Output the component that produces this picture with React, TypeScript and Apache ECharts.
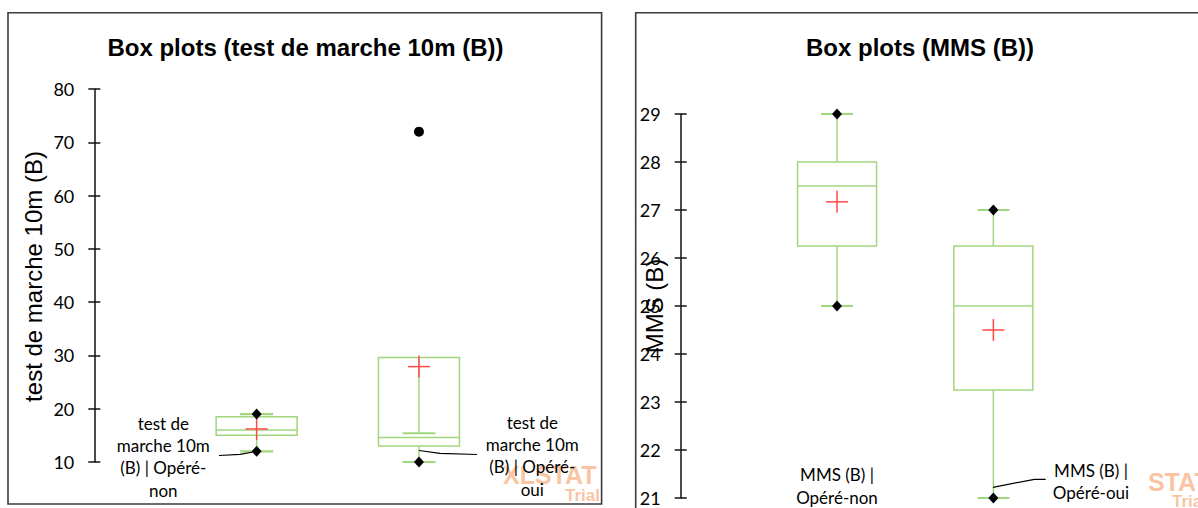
import React, { useEffect, useRef } from "react";
import * as echarts from "echarts";

// ---------- Data: test de marche 10m (B) ----------
const walkCategories = ["test de marche 10m (B) | Opéré-non", "test de marche 10m (B) | Opéré-oui"];
const walkLabelLines = [
  ["test de", "marche 10m", "(B) | Opéré-", "non"],
  ["test de", "marche 10m", "(B) | Opéré-", "oui"],
];
const walkTicks = [10, 20, 30, 40, 50, 60, 70, 80];
const walkMin = [12, 10];
const walkMax = [19, 72];
const walkQ1 = [15, 13];
const walkMedian = [16, 14.6];
const walkQ3 = [18.5, 29.6];
const walkWhiskerLow = [12, 10];
const walkWhiskerHigh = [19, 15.4];
const walkMean = [16.2, 27.9];
const walkIsMaxOutlier = [false, true];

// ---------- Data: MMS (B) ----------
const mmsCategories = ["MMS (B) | Opéré-non", "MMS (B) | Opéré-oui"];
const mmsLabelLines = [
  ["MMS (B) |", "Opéré-non"],
  ["MMS (B) |", "Opéré-oui"],
];
const mmsTicks = [21, 22, 23, 24, 25, 26, 27, 28, 29];
const mmsMin = [25, 21];
const mmsMax = [29, 27];
const mmsQ1 = [26.25, 23.25];
const mmsMedian = [27.5, 25];
const mmsQ3 = [28, 26.25];
const mmsMean = [27.17, 24.5];

const GREEN = "#a2d67e";
const RED = "#ff4a4a";
const LABEL_FONT = '"Lato", "Noto Sans", sans-serif';
const ARIAL = '"Liberation Sans", Arial, sans-serif';

function makeBoxRenderer(halfBox: number, halfCap: number, halfCross: number) {
  return (params: any, api: any) => {
    const x = api.value(0);
    const lo = api.coord([x, api.value(1)]);
    const q1 = api.coord([x, api.value(2)]);
    const md = api.coord([x, api.value(3)]);
    const q3 = api.coord([x, api.value(4)]);
    const hi = api.coord([x, api.value(5)]);
    const mn = api.coord([x, api.value(6)]);
    const cx = q1[0];
    const g = { stroke: GREEN, lineWidth: 1.5, fill: "transparent" };
    const cap = { stroke: GREEN, lineWidth: 2.2 };
    const red = { stroke: RED, lineWidth: 1.5 };
    return {
      type: "group",
      children: [
        { type: "line", shape: { x1: cx, y1: q1[1], x2: cx, y2: lo[1] }, style: g },
        { type: "line", shape: { x1: cx, y1: q3[1], x2: cx, y2: hi[1] }, style: g },
        { type: "line", shape: { x1: cx - halfCap, y1: lo[1], x2: cx + halfCap, y2: lo[1] }, style: cap },
        { type: "line", shape: { x1: cx - halfCap, y1: hi[1], x2: cx + halfCap, y2: hi[1] }, style: cap },
        {
          type: "rect",
          shape: { x: cx - halfBox, y: q3[1], width: halfBox * 2, height: q1[1] - q3[1] },
          style: g,
        },
        { type: "line", shape: { x1: cx - halfBox, y1: md[1], x2: cx + halfBox, y2: md[1] }, style: g },
        { type: "line", shape: { x1: cx - halfCross, y1: mn[1], x2: cx + halfCross, y2: mn[1] }, style: red },
        { type: "line", shape: { x1: cx, y1: mn[1] - halfCross, x2: cx, y2: mn[1] + halfCross }, style: red },
      ],
    };
  };
}

function yAxesFor(ticks: number[], gridIndex: number) {
  const base = {
    type: "value",
    gridIndex,
    min: ticks[0],
    max: ticks[ticks.length - 1],
    interval: ticks[1] - ticks[0],
    position: "left",
    splitLine: { show: false },
  };
  return [
    {
      ...base,
      axisLine: { show: true, lineStyle: { color: "#111", width: 1.5 } },
      axisTick: { show: true, inside: false, length: 6, lineStyle: { color: "#111", width: 1.5 } },
      axisLabel: { show: true, margin: 20, color: "#000", fontSize: 18, fontFamily: LABEL_FONT },
    },
    {
      ...base,
      axisLine: { show: false },
      axisTick: { show: true, inside: true, length: 6, lineStyle: { color: "#111", width: 1.5 } },
      axisLabel: { show: false },
    },
  ];
}

function labelText(lines: string[], x: number, yTop: number) {
  return {
    type: "text",
    x,
    y: yTop,
    z: 10,
    silent: true,
    style: {
      text: lines.join("\n"),
      font: `17px ${LABEL_FONT}`,
      fill: "#000",
      textAlign: "center",
      textVerticalAlign: "top",
      lineHeight: 22.3,
    },
  };
}

function watermark(x: number, y: number, xt: number, yt: number) {
  return [
    {
      type: "text",
      x,
      y,
      z: 1,
      silent: true,
      style: {
        text: "XLSTAT",
        font: `bold 25px ${ARIAL}`,
        fill: "rgba(248,170,120,0.7)",
        textAlign: "left",
        textVerticalAlign: "middle",
      },
    },
    {
      type: "text",
      x: xt,
      y: yt,
      z: 1,
      silent: true,
      style: {
        text: "Trial",
        font: `bold 17px ${ARIAL}`,
        fill: "rgba(248,170,120,0.7)",
        textAlign: "left",
        textVerticalAlign: "middle",
      },
    },
  ];
}

export default function App() {
  const ref = useRef<HTMLDivElement>(null);

  useEffect(() => {
    if (!ref.current) return;
    const chart = echarts.init(ref.current, undefined, { renderer: "svg" });

    const walkBoxes = walkCategories.map((_, i) => [
      i + 1,
      walkWhiskerLow[i],
      walkQ1[i],
      walkMedian[i],
      walkQ3[i],
      walkWhiskerHigh[i],
      walkMean[i],
    ]);
    const mmsBoxes = mmsCategories.map((_, i) => [
      i + 1,
      mmsMin[i],
      mmsQ1[i],
      mmsMedian[i],
      mmsQ3[i],
      mmsMax[i],
      mmsMean[i],
    ]);

    const walkDiamonds: number[][] = [];
    const walkOutlierPts: number[][] = [];
    walkCategories.forEach((_, i) => {
      walkDiamonds.push([i + 1, walkMin[i]]);
      if (walkIsMaxOutlier[i]) walkOutlierPts.push([i + 1, walkMax[i]]);
      else walkDiamonds.push([i + 1, walkMax[i]]);
    });
    const mmsDiamonds: number[][] = [];
    mmsCategories.forEach((_, i) => {
      mmsDiamonds.push([i + 1, mmsMin[i]]);
      mmsDiamonds.push([i + 1, mmsMax[i]]);
    });

    const markStyle = { color: "#000", opacity: 1 };

    const option: any = {
      animation: false,
      backgroundColor: "#fff",
      grid: [
        { left: 94.3, top: 89, width: 487, height: 373, containLabel: false },
        { left: 680.7, top: 114, width: 469, height: 384, containLabel: false },
      ],
      xAxis: [
        { type: "value", gridIndex: 0, min: 0, max: 3, show: false },
        { type: "value", gridIndex: 1, min: 0, max: 3, show: false },
      ],
      yAxis: [...yAxesFor(walkTicks, 0), ...yAxesFor(mmsTicks, 1)],
      series: [
        {
          type: "custom",
          xAxisIndex: 0,
          yAxisIndex: 0,
          silent: true,
          renderItem: makeBoxRenderer(40.5, 16.5, 11),
          data: walkBoxes,
          z: 2,
        },
        {
          type: "custom",
          xAxisIndex: 1,
          yAxisIndex: 2,
          silent: true,
          renderItem: makeBoxRenderer(39.5, 16, 11),
          data: mmsBoxes,
          z: 2,
        },
        {
          type: "scatter",
          xAxisIndex: 0,
          yAxisIndex: 0,
          silent: true,
          symbol: "diamond",
          symbolSize: [10, 11],
          itemStyle: markStyle,
          data: walkDiamonds,
          z: 5,
        },
        {
          type: "scatter",
          xAxisIndex: 0,
          yAxisIndex: 0,
          silent: true,
          symbol: "circle",
          symbolSize: 10,
          itemStyle: markStyle,
          data: walkOutlierPts,
          z: 5,
        },
        {
          type: "scatter",
          xAxisIndex: 1,
          yAxisIndex: 2,
          silent: true,
          symbol: "diamond",
          symbolSize: [10, 11],
          itemStyle: markStyle,
          data: mmsDiamonds,
          z: 5,
        },
      ],
      graphic: {
        elements: [
          // frames
          {
            type: "rect",
            z: 0,
            silent: true,
            shape: { x: 8, y: 12.7, width: 593.6, height: 491.3 },
            style: { stroke: "#3c3c3c", lineWidth: 1.6, fill: "transparent" },
          },
          {
            type: "rect",
            z: 0,
            silent: true,
            shape: { x: 635.7, y: 12.7, width: 600, height: 520 },
            style: { stroke: "#3c3c3c", lineWidth: 1.6, fill: "transparent" },
          },
          // titles
          {
            type: "text",
            x: 305.5,
            y: 47.7,
            z: 10,
            silent: true,
            style: {
              text: "Box plots (test de marche 10m (B))",
              font: `bold 24px ${ARIAL}`,
              fill: "#000",
              textAlign: "center",
              textVerticalAlign: "middle",
            },
          },
          {
            type: "text",
            x: 920,
            y: 47.7,
            z: 10,
            silent: true,
            style: {
              text: "Box plots (MMS (B))",
              font: `bold 24px ${ARIAL}`,
              fill: "#000",
              textAlign: "center",
              textVerticalAlign: "middle",
            },
          },
          // axis names
          {
            type: "text",
            x: 33,
            y: 276.5,
            rotation: Math.PI / 2,
            z: 10,
            silent: true,
            style: {
              text: "test de marche 10m (B)",
              font: `24px ${ARIAL}`,
              fill: "#000",
              textAlign: "center",
              textVerticalAlign: "middle",
            },
          },
          {
            type: "text",
            x: 654,
            y: 306,
            rotation: Math.PI / 2,
            z: 10,
            silent: true,
            style: {
              text: "MMS (B)",
              font: `24px ${ARIAL}`,
              fill: "#000",
              textAlign: "center",
              textVerticalAlign: "middle",
            },
          },
          // watermarks
          ...watermark(503, 475, 565, 495.5),
          ...watermark(1116, 481.7, 1172, 501.7),
          // white label box on the right chart hiding part of the watermark
          {
            type: "rect",
            z: 5,
            silent: true,
            shape: { x: 1046, y: 455, width: 103, height: 53 },
            style: { fill: "#fff", stroke: null },
          },
          // category labels
          labelText(walkLabelLines[0], 163.3, 412),
          labelText(walkLabelLines[1], 532.3, 411.1),
          labelText(mmsLabelLines[0], 837, 463.8),
          labelText(mmsLabelLines[1], 1091, 459.5),
          // leader lines
          {
            type: "polyline",
            z: 9,
            silent: true,
            shape: { points: [[219, 455.5], [240, 454.3], [256, 451.5]] },
            style: { stroke: "#000", lineWidth: 1.2, fill: null },
          },
          {
            type: "polyline",
            z: 9,
            silent: true,
            shape: { points: [[419, 450.5], [440, 453.3], [477, 454.5]] },
            style: { stroke: "#000", lineWidth: 1.2, fill: null },
          },
          {
            type: "polyline",
            z: 9,
            silent: true,
            shape: { points: [[993, 487.3], [1034.4, 479.3], [1045.7, 479.3]] },
            style: { stroke: "#000", lineWidth: 1.2, fill: null },
          },
        ],
      },
    };

    chart.setOption(option);
    return () => chart.dispose();
  }, []);

  return (
    <div
      ref={ref}
      style={{ position: "absolute", left: 0, top: 0, width: 1198, height: 508 }}
    />
  );
}
